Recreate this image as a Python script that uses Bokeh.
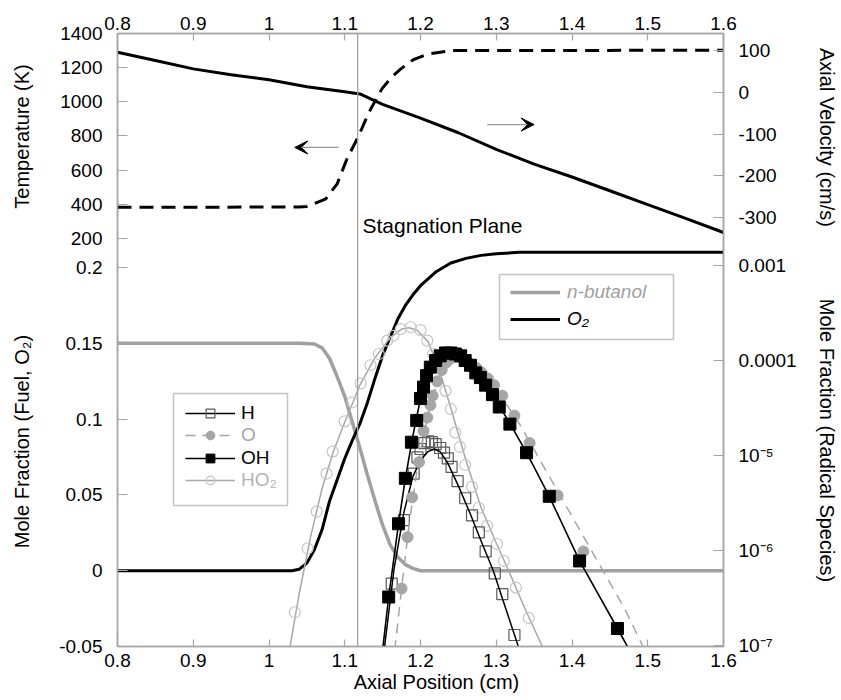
import math
from bokeh.plotting import figure
from bokeh.models import (Range1d, LinearAxis, FixedTicker, CustomJSTickFormatter,
                          LogScale, Span, Label, Legend, LegendItem, BoxAnnotation,
                          Arrow, VeeHead)
from bokeh.embed import file_html
from bokeh.resources import INLINE

# ------------------------------------------------------------------ data
x_ticks = [0.8, 0.9, 1.0, 1.1, 1.2, 1.3, 1.4, 1.5, 1.6]
x_tick_labels = ["0.8", "0.9", "1", "1.1", "1.2", "1.3", "1.4", "1.5", "1.6"]
temp_ticks = [200, 400, 600, 800, 1000, 1200, 1400]
temp_tick_labels = ["200", "400", "600", "800", "1000", "1200", "1400"]
vel_ticks = [-300, -200, -100, 0, 100]
vel_tick_labels = ["-300", "-200", "-100", "0", "100"]
frac_ticks = [-0.05, 0.0, 0.05, 0.1, 0.15, 0.2]
frac_tick_labels = ["-0.05", "0", "0.05", "0.1", "0.15", "0.2"]
rad_ticks = [1e-7, 1e-6, 1e-5, 1e-4, 1e-3]
rad_tick_labels = ["10\u207b\u2077", "10\u207b\u2076", "10\u207b\u2075", "0.0001", "0.001"]

left_titles = ["Temperature (K)", "Mole Fraction (Fuel, O\u2082)"]
right_titles = ["Axial Velocity (cm/s)", "Mole Fraction (Radical Species)"]
bottom_title = ["Axial Position (cm)"]

# top panel: axial velocity (solid) and temperature (dashed)
vel_x = [0.80, 0.85, 0.90, 0.95, 1.00, 1.05, 1.10, 1.12, 1.15, 1.20, 1.25, 1.30,
         1.35, 1.40, 1.45, 1.50, 1.55, 1.60]
vel = [96, 76, 56, 42, 30, 13, 1, -4, -29, -62, -97, -137, -172, -203, -236, -269, -302, -336]

temp_x = [0.80, 1.04, 1.05, 1.059, 1.075, 1.09, 1.103, 1.1175, 1.132, 1.149, 1.162,
          1.174, 1.19, 1.21, 1.24, 1.60]
temp = [383, 384, 388, 403, 432, 520, 667, 793, 939, 1076, 1145, 1193, 1245, 1280, 1300, 1302]

# bottom panel, linear: n-butanol and O2
fuel_x = [0.80, 1.04, 1.06, 1.07, 1.08, 1.09, 1.10, 1.11, 1.12, 1.13, 1.14, 1.15,
          1.16, 1.17, 1.18, 1.19, 1.20, 1.60]
fuel = [0.150, 0.150, 0.1495, 0.147, 0.140, 0.128, 0.115, 0.098, 0.081, 0.063, 0.046,
        0.030, 0.017, 0.009, 0.004, 0.0015, 0.0, 0.0]

o2_x = [0.80, 1.03, 1.04, 1.05, 1.06, 1.07, 1.08, 1.09, 1.10, 1.11, 1.12, 1.13, 1.14,
        1.15, 1.16, 1.17, 1.18, 1.19, 1.20, 1.22, 1.24, 1.26, 1.28, 1.30, 1.33, 1.60]
o2 = [0.0, 0.0, 0.001, 0.005, 0.014, 0.027, 0.046, 0.060, 0.074, 0.086, 0.097, 0.111,
      0.127, 0.142, 0.154, 0.166, 0.175, 0.182, 0.188, 0.197, 0.203, 0.206, 0.208,
      0.209, 0.21, 0.21]

# bottom panel, log: radical species (lines and symbols)
h_line_x = [1.152, 1.165, 1.178, 1.19, 1.20, 1.21, 1.218, 1.226, 1.236, 1.25, 1.265,
            1.28, 1.296, 1.31, 1.33]
h_line = [8.9e-8, 6.31e-7, 2.51e-6, 6.03e-6, 8.91e-6, 1.10e-5, 1.17e-5, 1.10e-5,
          8.32e-6, 4.79e-6, 2.51e-6, 1.26e-6, 6.17e-7, 2.82e-7, 9.3e-8]
h_pts_x = [1.162, 1.178, 1.191, 1.196, 1.200, 1.205, 1.210, 1.215, 1.220, 1.226, 1.231,
           1.236, 1.241, 1.249, 1.259, 1.268, 1.277, 1.286, 1.298, 1.308, 1.324]
h_pts = [4.47e-7, 2.09e-6, 6.46e-6, 9.55e-6, 1.17e-5, 1.35e-5, 1.41e-5, 1.38e-5, 1.32e-5,
         1.20e-5, 1.07e-5, 9.33e-6, 7.59e-6, 5.37e-6, 3.55e-6, 2.34e-6, 1.55e-6, 9.77e-7,
         5.75e-7, 3.47e-7, 1.29e-7]

o_line_x = [1.166, 1.175, 1.185, 1.195, 1.205, 1.215, 1.225, 1.235, 1.245, 1.255, 1.265,
            1.28, 1.30, 1.33, 1.36, 1.40, 1.44, 1.47, 1.495]
o_line = [8.9e-8, 3.98e-7, 1.91e-6, 6.61e-6, 1.82e-5, 3.80e-5, 6.92e-5, 9.12e-5, 1.05e-4,
          1.07e-4, 9.77e-5, 7.59e-5, 5.01e-5, 2.19e-5, 8.32e-6, 2.29e-6, 6.31e-7,
          2.40e-7, 9.3e-8]
o_pts_x = [1.175, 1.183, 1.189, 1.198, 1.204, 1.209, 1.213, 1.216, 1.222, 1.228, 1.234,
           1.240, 1.247, 1.253, 1.260, 1.267, 1.274, 1.281, 1.289, 1.297, 1.308, 1.324,
           1.344, 1.381, 1.415]
o_pts = [3.98e-7, 1.38e-6, 3.63e-6, 8.51e-6, 1.82e-5, 2.51e-5, 3.39e-5, 4.27e-5, 6.03e-5,
         7.94e-5, 9.55e-5, 1.05e-4, 1.10e-4, 1.07e-4, 1.00e-4, 9.12e-5, 8.32e-5, 7.41e-5,
         6.46e-5, 5.50e-5, 4.27e-5, 2.63e-5, 1.35e-5, 3.80e-6, 9.77e-7]

oh_line_x = [1.150, 1.158, 1.171, 1.180, 1.190, 1.200, 1.210, 1.220, 1.230, 1.240, 1.250,
             1.260, 1.275, 1.29, 1.305, 1.32, 1.34, 1.37, 1.41, 1.46, 1.476]
oh_line = [9.0e-8, 3.24e-7, 1.91e-6, 5.75e-6, 1.62e-5, 3.98e-5, 7.59e-5, 1.00e-4, 1.17e-4,
           1.20e-4, 1.15e-4, 9.77e-5, 7.24e-5, 4.90e-5, 3.24e-5, 2.04e-5, 1.07e-5,
           3.72e-6, 7.76e-7, 1.51e-7, 8.9e-8]
oh_pts_x = [1.158, 1.171, 1.180, 1.188, 1.195, 1.200, 1.204, 1.208, 1.213, 1.220, 1.226,
            1.233, 1.240, 1.246, 1.253, 1.259, 1.266, 1.273, 1.279, 1.286, 1.295, 1.304,
            1.318, 1.340, 1.370, 1.410, 1.460]
oh_pts = [3.24e-7, 1.91e-6, 5.75e-6, 1.38e-5, 2.34e-5, 3.98e-5, 5.25e-5, 6.92e-5, 8.51e-5,
          1.00e-4, 1.12e-4, 1.20e-4, 1.20e-4, 1.17e-4, 1.12e-4, 1.00e-4, 8.91e-5, 7.41e-5,
          6.61e-5, 5.50e-5, 4.37e-5, 3.24e-5, 2.14e-5, 1.07e-5, 3.72e-6, 7.76e-7, 1.51e-7]

ho2_line_x = [1.027, 1.04, 1.055, 1.07, 1.085, 1.10, 1.12, 1.14, 1.16, 1.175, 1.185,
              1.195, 1.21, 1.225, 1.24, 1.26, 1.28, 1.30, 1.32, 1.34, 1.363]
ho2_line = [9.0e-8, 3.55e-7, 1.41e-6, 4.47e-6, 1.10e-5, 2.24e-5, 5.50e-5, 1.07e-4,
            1.74e-4, 2.14e-4, 2.21e-4, 2.09e-4, 1.58e-4, 7.94e-5, 3.16e-5, 8.91e-6,
            2.82e-6, 1.20e-6, 5.25e-7, 2.24e-7, 9.0e-8]
ho2_pts_x = [1.034, 1.051, 1.063, 1.076, 1.084, 1.100, 1.110, 1.121, 1.134, 1.145, 1.156,
             1.164, 1.174, 1.187, 1.200, 1.209, 1.217, 1.222, 1.233, 1.240, 1.246, 1.252,
             1.259, 1.268, 1.277, 1.288, 1.301, 1.310, 1.326, 1.343]
ho2_pts = [2.24e-7, 1.05e-6, 2.57e-6, 6.46e-6, 1.10e-5, 2.29e-5, 3.63e-5, 5.75e-5, 8.91e-5,
           1.17e-4, 1.62e-4, 1.82e-4, 2.14e-4, 2.24e-4, 2.09e-4, 1.62e-4, 1.17e-4, 8.51e-5,
           4.79e-5, 3.09e-5, 1.74e-5, 1.23e-5, 7.94e-6, 4.68e-6, 2.82e-6, 1.82e-6, 1.17e-6,
           7.76e-7, 4.07e-7, 1.95e-7]

stagnation_x = 1.117

# ------------------------------------------------------------------ layout / style
FONT = "Liberation Sans"
W, H = 841, 700
FL, FR, FT, FB = 117, 723, 33, 646          # frame edges (page pixels)
GRAY_AX = "#a6a6a6"

# calibration: (value, page y) pairs
T_CAL = ((1400, 33), (200, 238))
V_CAL = ((100, 50), (-300, 217))
X_CAL = ((0.2, 267), (-0.05, 646))
R_CAL = ((-3, 265), (-7, 645))              # log10 of mole fraction

# title centres (page pixels)
LEFT_TITLE_Y = [136, 441]
RIGHT_TITLE_Y = [137, 440]
BOTTOM_TITLE_X = [436]


def ends(cal):
    (v1, p1), (v2, p2) = cal
    s = (v2 - v1) / (p2 - p1)
    return v1 + (FB - p1) * s, v1 + (FT - p1) * s


T_B, T_T = ends(T_CAL)
V_B, V_T = ends(V_CAL)
X_B, X_T = ends(X_CAL)
R_B, R_T = ends(R_CAL)


def lin_frac(v, b, t):
    return round(min(max((v - b) / (t - b), 0.0), 1.0), 7)


def page_y_frac(py):
    return round((FB - py) / (FB - FT), 7)


p = figure(width=W, height=H, output_backend="svg", toolbar_location=None,
           x_range=Range1d(0.8, 1.6), y_range=Range1d(0, 1),
           x_axis_location=None, y_axis_location=None,
           min_border_left=FL, min_border_right=W - FR,
           min_border_top=FT, min_border_bottom=H - FB)
p.grid.visible = False
p.outline_line_color = GRAY_AX
p.outline_line_width = 1.5
p.background_fill_color = "white"
p.border_fill_color = "white"

p.extra_y_ranges = {"T": Range1d(T_B, T_T), "V": Range1d(V_B, V_T),
                    "X": Range1d(X_B, X_T), "R": Range1d(10 ** R_B, 10 ** R_T)}
p.extra_y_scales = {"R": LogScale()}

JS = """
let best = 0, d = Infinity;
for (let i = 0; i < pos.length; i++) {
  const e = Math.abs(pos[i] - tick);
  if (e < d) { d = e; best = i; }
}
return lab[best];
"""


def make_axis(pos, lab, tick_in, standoff, size="19px"):
    ax = LinearAxis(ticker=FixedTicker(ticks=pos),
                    formatter=CustomJSTickFormatter(args=dict(pos=pos, lab=lab), code=JS))
    ax.axis_line_color = GRAY_AX
    ax.axis_line_width = 1.5
    ax.major_tick_line_color = GRAY_AX
    ax.major_tick_line_width = 1.2
    ax.major_tick_in = tick_in
    ax.major_tick_out = 0
    ax.minor_tick_line_color = None
    ax.major_label_text_font = FONT
    ax.major_label_text_font_size = size
    ax.major_label_text_color = "black"
    ax.major_label_standoff = standoff
    return ax


def title_axis(pos, lab, standoff, orientation):
    ax = make_axis(pos, lab, 0, standoff, size="20px")
    ax.axis_line_color = None
    ax.major_tick_line_color = None
    ax.major_label_orientation = orientation
    return ax


# tick axes (nearest to the frame)
p.add_layout(make_axis(x_ticks, x_tick_labels, 7, 7), "below")
p.add_layout(make_axis(x_ticks, x_tick_labels, 7, 4), "above")

left_pos = [lin_frac(v, T_B, T_T) for v in temp_ticks] + [lin_frac(v, X_B, X_T) for v in frac_ticks]
left_lab = temp_tick_labels + frac_tick_labels
p.add_layout(make_axis(left_pos, left_lab, 10, 15), "left")

right_pos = [lin_frac(v, V_B, V_T) for v in vel_ticks] + \
            [lin_frac(math.log10(v), R_B, R_T) for v in rad_ticks]
right_lab = vel_tick_labels + rad_tick_labels
p.add_layout(make_axis(right_pos, right_lab, 10, 15), "right")

# title axes (outer panels): their labels are the axis titles
p.add_layout(title_axis([page_y_frac(y) for y in LEFT_TITLE_Y], left_titles, 24, "parallel"), "left")
p.add_layout(title_axis([page_y_frac(y) for y in RIGHT_TITLE_Y], right_titles, 16, "parallel"), "right")
p.add_layout(title_axis([0.8 + (x - FL) / (FR - FL) * 0.8 for x in BOTTOM_TITLE_X], bottom_title,
                        1, "horizontal"), "below")

# ------------------------------------------------------------------ glyphs
p.add_layout(Span(location=stagnation_x, dimension="height", line_color="#a0a0a0", line_width=1.3))

p.line(vel_x, vel, y_range_name="V", line_color="black", line_width=3)
p.line(temp_x, temp, y_range_name="T", line_color="black", line_width=3, line_dash="14 8")

fuel_r = p.line(fuel_x, fuel, y_range_name="X", line_color="#a0a0a0", line_width=3.5)
o2_r = p.line(o2_x, o2, y_range_name="X", line_color="black", line_width=3)

ho2_l = p.line(ho2_line_x, ho2_line, y_range_name="R", line_color="#a8a8a8", line_width=1.5)
ho2_s = p.scatter(ho2_pts_x, ho2_pts, y_range_name="R", marker="circle", size=11,
                  fill_color=None, line_color="#c4c4c4", line_width=1.2)
h_s = p.scatter(h_pts_x, h_pts, y_range_name="R", marker="square", size=11,
                fill_color=None, line_color="#5a5a5a", line_width=1.2)
h_l = p.line(h_line_x, h_line, y_range_name="R", line_color="black", line_width=1.5)
o_s = p.scatter(o_pts_x, o_pts, y_range_name="R", marker="circle", size=11,
                fill_color="#a6a6a6", line_color="#a6a6a6")
o_l = p.line(o_line_x, o_line, y_range_name="R", line_color="#a6a6a6", line_width=1.5,
             line_dash="10 7")
oh_s = p.scatter(oh_pts_x, oh_pts, y_range_name="R", marker="square", size=12,
                 fill_color="black", line_color="black")
oh_l = p.line(oh_line_x, oh_line, y_range_name="R", line_color="black", line_width=1.6)

# ------------------------------------------------------------------ arrows
p.add_layout(Arrow(end=VeeHead(size=13, fill_color="black", line_color="black"),
                   x_start=1.092, y_start=733, x_end=1.034, y_end=733, y_range_name="T",
                   line_color="#999999", line_width=1.2))
p.add_layout(Arrow(end=VeeHead(size=13, fill_color="black", line_color="black"),
                   x_start=1.288, y_start=867, x_end=1.350, y_end=867, y_range_name="T",
                   line_color="#999999", line_width=1.2))


# ------------------------------------------------------------------ legends
def one_legend(label, renderers, page_x, page_yc, color, row_h=22, italic=False, standoff=6):
    lg = Legend(items=[LegendItem(label=label, renderers=renderers)],
                location=(page_x - FL, FB - page_yc - row_h / 2),
                orientation="vertical", border_line_alpha=0, background_fill_alpha=0,
                padding=0, margin=0, spacing=0, glyph_width=50, glyph_height=row_h,
                label_height=row_h, label_standoff=standoff,
                label_text_font=FONT, label_text_font_size="19px",
                label_text_color=color,
                label_text_font_style="italic" if italic else "normal")
    p.add_layout(lg)


p.add_layout(BoxAnnotation(left=173 - FL, right=287 - FL, top=FB - 393, bottom=FB - 505,
                           left_units="screen", right_units="screen",
                           top_units="screen", bottom_units="screen",
                           fill_alpha=0, line_color="#3a3a3a", line_width=1.5))
one_legend("H", [h_l, h_s], 185, 413, "black")
one_legend("O", [o_l, o_s], 185, 435, "#a6a6a6")
one_legend("OH", [oh_l, oh_s], 185, 458, "black")
one_legend("HO\u2082", [ho2_l, ho2_s], 185, 480, "#b4b4b4")

p.add_layout(BoxAnnotation(left=499 - FL, right=673 - FL, top=FB - 274, bottom=FB - 339,
                           left_units="screen", right_units="screen",
                           top_units="screen", bottom_units="screen",
                           fill_alpha=0, line_color="#3a3a3a", line_width=1.5))
one_legend("n-butanol", [fuel_r], 510, 292, "#a0a0a0", italic=True, standoff=7)
one_legend("O\u2082", [o2_r], 510, 319, "black", italic=True, standoff=7)

# ------------------------------------------------------------------ in-plot text
p.add_layout(Label(x=362 - FL, y=FB - 225, x_units="screen", y_units="screen",
                   text="Stagnation Plane", text_align="left", text_baseline="alphabetic",
                   text_font=FONT, text_font_size="21px", text_color="black"))

open("out.html", "w").write(file_html(p, INLINE))
